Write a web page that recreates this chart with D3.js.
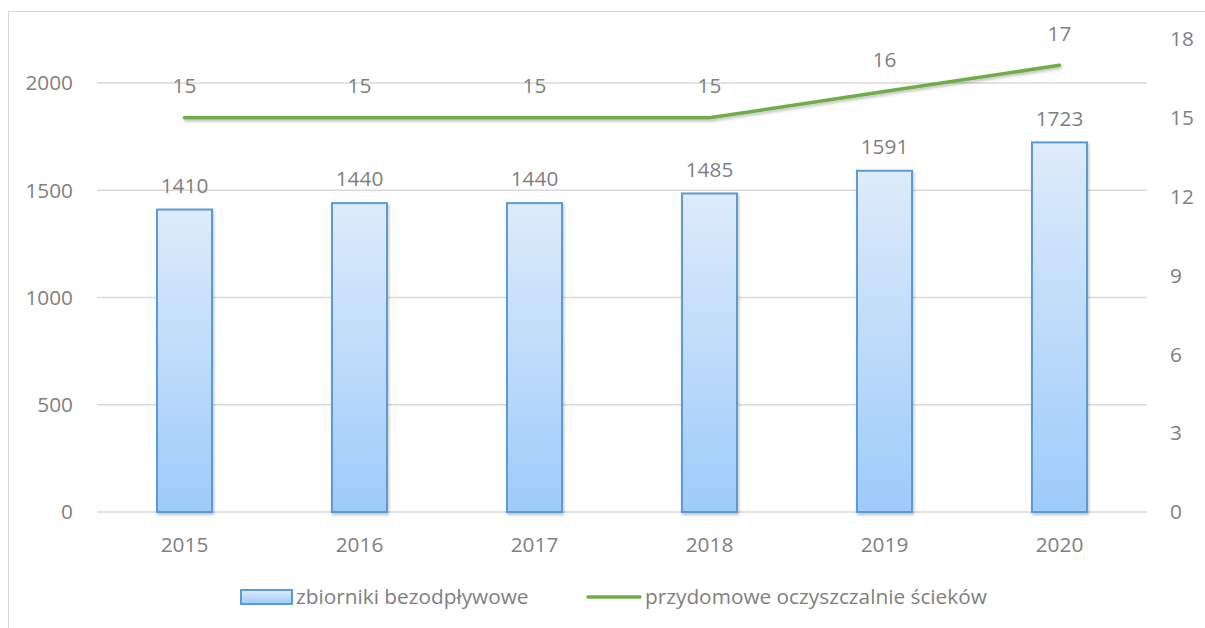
<!DOCTYPE html>
<meta charset="utf-8">
<style>
  body { margin: 0; background: #fff; }
  text { font-family: "Open Sans", "Liberation Sans", sans-serif; fill: #7f7f7f; }
</style>
<svg width="1205" height="628"></svg>
<script src="https://cdnjs.cloudflare.com/ajax/libs/d3/7.8.5/d3.min.js"></script>
<script>
const years = ["2015", "2016", "2017", "2018", "2019", "2020"];
const zbiorniki = [1410, 1440, 1440, 1485, 1591, 1723];
const oczyszczalnie = [15, 15, 15, 15, 16, 17];
const leftTicks = [0, 500, 1000, 1500, 2000];
const rightTicks = [0, 3, 6, 9, 12, 15, 18];
const seriesNames = ["zbiorniki bezodpływowe", "przydomowe oczyszczalnie ścieków"];

const width = 1205, height = 628;
const fs = 20.8;

const svg = d3.select("svg");

// chart frame
svg.append("rect")
    .attr("x", 8.5).attr("y", 11.5)
    .attr("width", 1210).attr("height", 640)
    .attr("fill", "none")
    .attr("stroke", "#d9d9d9");

const defs = svg.append("defs");
const grad = defs.append("linearGradient")
    .attr("id", "barGrad")
    .attr("x1", 0).attr("y1", 0).attr("x2", 0).attr("y2", 1);
grad.append("stop").attr("offset", "0%").attr("stop-color", "#deebfa");
grad.append("stop").attr("offset", "100%").attr("stop-color", "#9dcbfa");

const shadow = defs.append("filter").attr("id", "shadow")
    .attr("x", "-20%").attr("y", "-20%").attr("width", "140%").attr("height", "160%");
shadow.append("feDropShadow")
    .attr("dx", 1).attr("dy", 2).attr("stdDeviation", 1.5)
    .attr("flood-color", "#000").attr("flood-opacity", 0.25);

const x = d3.scaleBand()
    .domain(years)
    .range([97, 1147]);

const y = d3.scaleLinear()
    .domain([0, 2000])
    .range([512, 83]);

const y2 = d3.scaleLinear()
    .domain([0, 18])
    .range([512, 39]);

const cx = i => x(years[i]) + x.bandwidth() / 2;

// gridlines
svg.append("g")
  .selectAll("line")
  .data(leftTicks)
  .join("line")
    .attr("x1", x.range()[0])
    .attr("x2", x.range()[1])
    .attr("y1", d => y(d))
    .attr("y2", d => y(d))
    .attr("stroke", "#d9d9d9")
    .attr("stroke-width", 1.5);

// left axis labels
svg.append("g")
    .attr("font-size", fs)
    .attr("text-anchor", "end")
  .selectAll("text")
  .data(leftTicks)
  .join("text")
    .attr("x", 73)
    .attr("y", d => y(d))
    .attr("dy", "0.35em")
    .text(d => d);

// right axis labels
svg.append("g")
    .attr("font-size", fs)
    .attr("text-anchor", "start")
  .selectAll("text")
  .data(rightTicks)
  .join("text")
    .attr("x", 1170)
    .attr("y", d => y2(d))
    .attr("dy", "0.35em")
    .text(d => d);

// x labels
svg.append("g")
    .attr("font-size", fs)
    .attr("text-anchor", "middle")
  .selectAll("text")
  .data(years)
  .join("text")
    .attr("x", (d, i) => cx(i))
    .attr("y", 545)
    .attr("dy", "0.35em")
    .text(d => d);

// bars
const barW = 55;
svg.append("g")
  .selectAll("rect")
  .data(zbiorniki)
  .join("rect")
    .attr("x", (d, i) => cx(i) - barW / 2)
    .attr("y", d => y(d))
    .attr("width", barW)
    .attr("height", d => y(0) - y(d))
    .attr("fill", "url(#barGrad)")
    .attr("stroke", "#5b9bd5")
    .attr("stroke-width", 2)
    .attr("filter", "url(#shadow)");

svg.append("g")
    .attr("font-size", fs)
    .attr("text-anchor", "middle")
  .selectAll("text")
  .data(zbiorniki)
  .join("text")
    .attr("x", (d, i) => cx(i))
    .attr("y", d => y(d) - 24)
    .attr("dy", "0.35em")
    .text(d => d);

// line
const line = d3.line()
    .x((d, i) => cx(i))
    .y(d => y2(d));

svg.append("path")
    .datum(oczyszczalnie)
    .attr("d", line)
    .attr("fill", "none")
    .attr("stroke", "#70ad47")
    .attr("stroke-width", 3.5)
    .attr("stroke-linecap", "round")
    .attr("filter", "url(#shadow)");

svg.append("g")
    .attr("font-size", fs)
    .attr("text-anchor", "middle")
  .selectAll("text")
  .data(oczyszczalnie)
  .join("text")
    .attr("x", (d, i) => cx(i))
    .attr("y", d => y2(d) - 32)
    .attr("dy", "0.35em")
    .text(d => d);

// legend
const legend = svg.append("g").attr("font-size", fs);
legend.append("rect")
    .attr("x", 241).attr("y", 590)
    .attr("width", 51).attr("height", 14)
    .attr("fill", "url(#barGrad)")
    .attr("stroke", "#5b9bd5")
    .attr("stroke-width", 2);
legend.append("text")
    .attr("x", 296).attr("y", 597)
    .attr("dy", "0.35em")
    .text(seriesNames[0]);
legend.append("line")
    .attr("x1", 588).attr("x2", 640)
    .attr("y1", 597).attr("y2", 597)
    .attr("stroke", "#70ad47")
    .attr("stroke-width", 3.5)
    .attr("stroke-linecap", "round");
legend.append("text")
    .attr("x", 645).attr("y", 597)
    .attr("dy", "0.35em")
    .text(seriesNames[1]);
</script>
